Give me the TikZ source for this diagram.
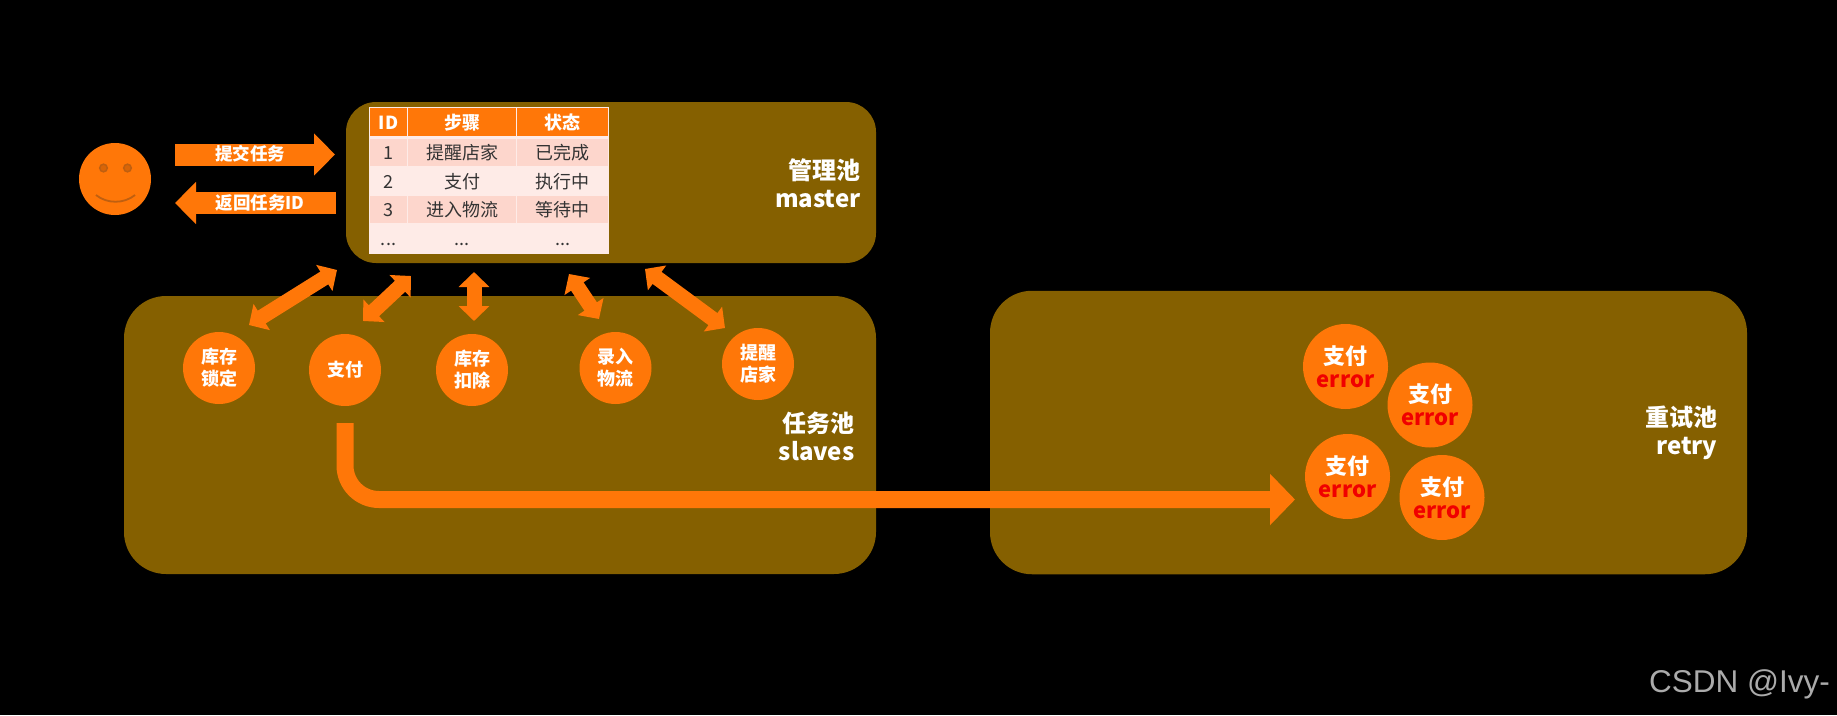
\documentclass[tikz,border=0pt]{standalone}
\usepackage{fontspec}
\usepackage{xcolor}
\usepackage{tikz}
\usetikzlibrary{calc,arrows.meta,positioning}
\setmainfont{Noto Sans CJK SC}
\newfontfamily\markfont{Liberation Sans}
\definecolor{poolx}{HTML}{856000}
\definecolor{orangex}{HTML}{FF7708}
\definecolor{rowa}{HTML}{FDD6CC}
\definecolor{rowb}{HTML}{FEEBE7}
\definecolor{inkx}{HTML}{333333}
\definecolor{errx}{HTML}{F00000}
\definecolor{browx}{HTML}{BF5F10}
\tikzset{
  pool/.style={fill=poolx,rounded corners=42pt,inner sep=0pt,outer sep=0pt},
  pooltxt/.style={text=white,font=\fontsize{24}{28}\selectfont\bfseries,align=right,anchor=east},
  task/.style={circle,fill=orangex,minimum size=72pt,inner sep=0pt,text=white,align=center,font=\fontsize{18}{22}\selectfont\bfseries},
  errtask/.style={circle,fill=orangex,minimum size=85pt,inner sep=0pt,text=white,align=center,font=\fontsize{22}{26}\selectfont\bfseries},
  twoway/.style={{Triangle[width=30pt,length=15pt]}-{Triangle[width=30pt,length=15pt]},line width=15pt,orangex},
  fatar/.style={-{Triangle[width=41pt,length=21pt]},line width=22pt,orangex},
  bigar/.style={-{Triangle[width=50pt,length=25pt]},line width=17pt,orangex,rounded corners=34pt},
  artxt/.style={text=white,font=\fontsize{17.5}{20}\selectfont\bfseries},
  cell/.style={inner sep=0pt,outer sep=0pt,text=inkx,text height=15pt,text depth=1pt,font=\fontsize{18}{20}\selectfont},
  headcell/.style={cell,fill=orangex,text=white,font=\fontsize{18}{20}\selectfont\bfseries}
}
\newcommand{\errlabel}[1]{#1\\[-3pt]\textcolor{errx}{error}}
\newcommand{\tdots}{...}
\begin{document}
\begin{tikzpicture}[x=1pt,y=-1pt]
\useasboundingbox[fill=black] (0,0) rectangle (1837,715);
% pools
\node[pool,minimum width=530pt,minimum height=161pt,rounded corners=30pt] (master) at (611,182.5) {};
\node[pool,minimum width=752pt,minimum height=278pt] (slaves) at (500,435) {};
\node[pool,minimum width=757pt,minimum height=283.5pt] (retry) at (1368.5,432.5) {};
\node[pooltxt] (mastertxt) at (864,183.5) {管理池\\master};
\node[pooltxt] (slavestxt) at (858,436.5) {任务池\\slaves};
\node[pooltxt] (retrytxt) at (1721,432.5) {重试池\\retry};
% table
\fill[rowb] (369,107) rectangle (609,254);
\foreach \nm/\cx/\cw/\tx in {hid/388.5/37/ID,hstep/462/108/步骤,hstate/562.5/91/状态}
  \node[headcell,minimum width=\cw pt,minimum height=28pt] (\nm) at (\cx,122) {\tx};
\foreach \rn/\ry/\rh/\rc/\ca/\cb/\cc in {ra/152.5/27/rowa/1/提醒店家/已完成,rb/181/30/rowb/2/支付/执行中,rc/209.5/27/rowa/3/进入物流/等待中,rd/238/30/rowb/\tdots/\tdots/\tdots}{
  \node[cell,fill=\rc,minimum width=37pt,minimum height=\rh pt] (\rn1) at (388.5,\ry) {\ca};
  \node[cell,fill=\rc,minimum width=108pt,minimum height=\rh pt] (\rn2) at (462,\ry) {\cb};
  \node[cell,fill=\rc,minimum width=91pt,minimum height=\rh pt] (\rn3) at (562.5,\ry) {\cc};
}
% user
\node[circle,fill=orangex,minimum size=72pt,inner sep=0pt] (face) at (115,179) {};
\foreach \ex in {103.5,127.5}
  \draw[browx,fill=orangex!85!black,line width=1.5pt] (\ex,168) circle (3.8);
\draw[browx,line width=1.8pt] (96,195) .. controls (107,204) and (124,204) .. (135,195);
\coordinate (suba) at (175,154.5);
\coordinate (subb) at (335,154.5);
\coordinate (reta) at (336,203);
\coordinate (retb) at (175,203);
\draw[fatar] (suba) -- (subb);
\draw[fatar] (reta) -- (retb);
\node[artxt] (subtxt) at (250,154) {提交任务};
\node[artxt] (rettxt) at (260,203) {返回任务ID};
% tasks
\node[task] (lock) at (219,368) {库存\\锁定};
\node[task] (pay) at (345,370) {支付};
\node[task] (deduct) at (472,370) {库存\\扣除};
\node[task] (entry) at (615.5,368) {录入\\物流};
\node[task] (remind) at (758,364) {提醒\\店家};
\foreach \nm/\ax/\ay/\bx/\by in {lock/249/325/337/270,pay/363/321/411/276,deduct/474/321/474/272,entry/599/319/569/274,remind/725/328/645/269}{
  \coordinate (\nm a) at (\ax,\ay);
  \coordinate (\nm b) at (\bx,\by);
  \draw[twoway] (\nm a) -- (\nm b);
}
% retry
\node[errtask] (erra) at (1345.5,366.5) {\errlabel{支付}};
\node[errtask] (errb) at (1430,405) {\errlabel{支付}};
\node[errtask] (errc) at (1347.5,476.5) {\errlabel{支付}};
\node[errtask] (errd) at (1442,497.5) {\errlabel{支付}};
\coordinate (hit) at (1295,499.5);
\draw[bigar,shorten <=17pt] (pay.south) |- (hit);
\node[anchor=base east,text=black!33,font=\markfont\fontsize{31.5}{36}\selectfont,inner sep=0pt] (mark) at (1830,692) {CSDN @Ivy-};
\end{tikzpicture}
\end{document}
